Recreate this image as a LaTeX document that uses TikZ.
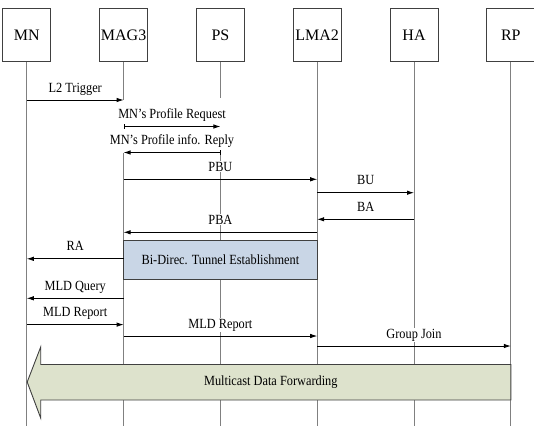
\documentclass[tikz,border=0pt]{standalone}
\usepackage{fontspec}
\newfontfamily\boxfont{Liberation Serif}
\newfontfamily\lblfont[FakeStretch=0.88]{Liberation Serif}
\usetikzlibrary{arrows.meta}
\definecolor{lifegray}{HTML}{808080}
\definecolor{edgegray}{HTML}{404040}
\definecolor{tunnelblue}{HTML}{C9D6E6}
\definecolor{flowgreen}{HTML}{DDE2CC}
\begin{document}
\begin{tikzpicture}[x=1pt,y=-1pt,
  entity/.style={draw=edgegray, line width=0.9pt, fill=white,
    minimum width=48pt, minimum height=53.5pt, inner sep=0pt,
    font=\boxfont\fontsize{16}{18}\selectfont},
  life/.style={draw=lifegray, line width=0.9pt},
  msg/.style={draw=black, line width=0.8pt, -{Latex[length=7pt,width=4.5pt]}},
  barmsg/.style={msg, {Bar[width=4.5pt]}-{Latex[length=7pt,width=4.5pt]}},
  lbl/.style={midway, anchor=base, yshift=8pt, fill=white, inner sep=1pt,
    font=\lblfont\fontsize{14}{16}\selectfont},
  tunnel/.style={draw=edgegray, line width=0.9pt, fill=tunnelblue, inner sep=0pt,
    font=\lblfont\fontsize{14}{16}\selectfont},
  flow/.style={draw=edgegray, line width=0.9pt, fill=flowgreen},
  flowtext/.style={font=\lblfont\fontsize{14}{16}\selectfont}]
\useasboundingbox (0,0) rectangle (534,426);

% participants
\foreach \n/\x in {MN/26.8, MAG3/123.6, PS/220.4, LMA2/317.2, HA/414, RP/510.8}
  \node[entity] (\n) at (\x,35) {\n};

% lifelines
\coordinate (floor) at (0,425.5);
\draw[life] (MN.south) -- (MN.south |- floor);
\draw[life] (MAG3.south) -- (MAG3 |- 0,100);
\draw[life] (MAG3 |- 0,152.5) -- (MAG3.south |- floor);
\draw[life] (PS.south) -- (PS |- 0,98);
\draw[life] (PS |- 0,152.5) -- (PS.south |- floor);
\draw[life] (LMA2.south) -- (LMA2.south |- floor);
\draw[life] (HA.south) -- (HA.south |- floor);
\draw[life] (RP.south) -- (RP.south |- floor);

% messages
\draw[msg] (MN |- 0,100) -- node[lbl] {L2 Trigger} (MAG3 |- 0,100);
\draw[barmsg] (MAG3 |- 0,126.5) -- node[lbl] {MN’s Profile Request} (PS |- 0,126.5);
\draw[barmsg] (PS |- 0,152.5) -- node[lbl] {MN’s Profile info. Reply} (MAG3 |- 0,152.5);
\draw[msg] (MAG3 |- 0,179.3) -- node[lbl] {PBU} (LMA2 |- 0,179.3);
\draw[msg] (LMA2 |- 0,192.7) -- node[lbl] {BU} (HA |- 0,192.7);
\draw[msg] (HA |- 0,219.3) -- node[lbl] {BA} (LMA2 |- 0,219.3);
\draw[msg] (LMA2 |- 0,232.3) -- node[lbl] {PBA} (MAG3 |- 0,232.3);

% tunnel set-up between MAG3 and LMA2
\node[tunnel, minimum width=193.6pt, minimum height=39.3pt] (tun) at (220.4,259.65)
  {Bi-Direc. Tunnel Establishment};

\draw[msg] (MAG3 |- 0,258.8) -- node[lbl] {RA} (MN |- 0,258.8);
\draw[msg] (MAG3 |- 0,298.3) -- node[lbl] {MLD Query} (MN |- 0,298.3);
\draw[msg] (MN |- 0,324.6) -- node[lbl] {MLD Report} (MAG3 |- 0,324.6);
\draw[msg] (MAG3 |- 0,336) -- node[lbl] {MLD Report} (LMA2 |- 0,336);
\draw[msg] (LMA2 |- 0,346) -- node[lbl] {Group Join} (RP |- 0,346);

% multicast data path back to the MN
\draw[flow] (RP |- 0,364.5) -- (40.7,364.5) -- (40.7,347) -- (27.2,382)
  -- (40.7,418) -- (40.7,400) -- (RP |- 0,400) -- cycle;
\node[flowtext] (mdf) at (270.8,382) {Multicast Data Forwarding};
\end{tikzpicture}
\end{document}
